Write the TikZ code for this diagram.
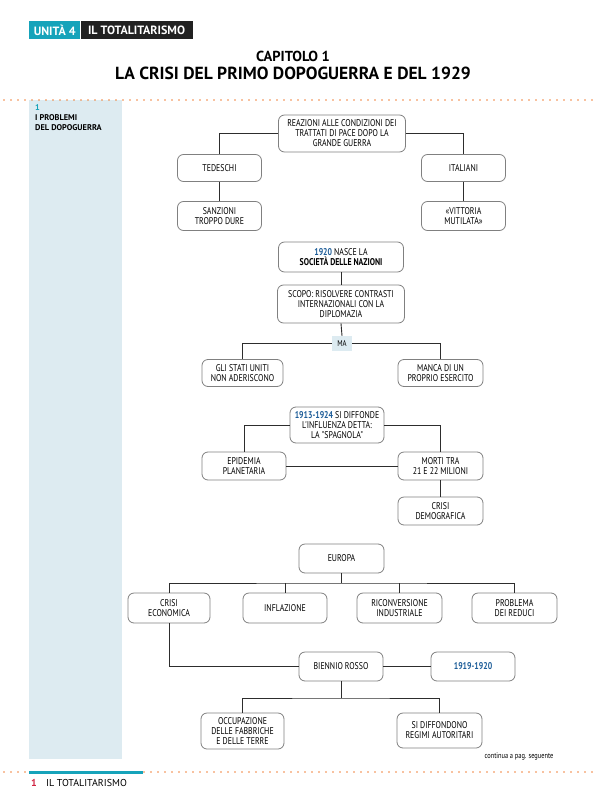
\documentclass[tikz,border=0pt]{standalone}
\usepackage{fontspec}
\setmainfont{PT Sans}
\newfontfamily\condfont{PT Sans}[FakeStretch=0.8]
\usepackage{xcolor}
\definecolor{unitteal}{RGB}{22,163,186}
\definecolor{paneblue}{RGB}{221,235,241}
\definecolor{dotorange}{RGB}{240,132,62}
\definecolor{yearblue}{RGB}{28,92,152}
\definecolor{boxgray}{RGB}{128,128,128}
\definecolor{linegray}{RGB}{45,45,45}
\definecolor{pagered}{RGB}{208,36,66}
\newcommand{\anno}[1]{\textcolor{yearblue}{\bfseries #1}}

\begin{document}
\begin{tikzpicture}[x=1pt, y=-1pt,
  blk/.style={draw=boxgray, fill=white, rounded corners=6pt, line width=0.8pt,
              minimum width=84pt, minimum height=28pt, inner sep=1pt,
              font=\condfont\fontsize{9.8}{10}\selectfont, align=center},
  link/.style={draw=linegray, line width=0.9pt},
  dotline/.style={draw=dotorange, line width=1.7pt, line cap=round,
                  dash pattern=on 0pt off 7pt},
  every node/.style={align=center}
]
\useasboundingbox (0,0) rectangle (593,808);

%% Page frame
\fill[paneblue] (29,100) rectangle (122,759);
\draw[dotline] (4,100) -- (593,100);
\draw[dotline] (4,772) -- (593,772);
\fill[unitteal] (29,770.5) rectangle (143,774);

%% Header
\node[fill=unitteal, text=white, font=\bfseries\fontsize{12}{12}\selectfont,
      minimum width=51pt, minimum height=18pt, inner sep=0pt, anchor=north west]
      (unita) at (29,21) {UNITÀ 4};
\node[fill=black!87, text=white, font=\bfseries\fontsize{12}{12}\selectfont,
      minimum width=112pt, minimum height=18pt, inner sep=0pt, anchor=west]
      (unitit) at (unita.east) {IL TOTALITARISMO};
\node[font=\bfseries\fontsize{14.5}{15}\selectfont] (cap) at (293,56) {CAPITOLO 1};
\node[font=\bfseries\fontsize{17.5}{18}\selectfont] (titolo) at (293,73)
  {LA CRISI DEL PRIMO DOPOGUERRA E DEL 1929};

%% Section label
\node[anchor=north west, align=left, inner sep=0pt,
      font=\bfseries\fontsize{8.3}{10}\selectfont] (sez) at (35,104)
  {\textcolor{unitteal}{1}\\I PROBLEMI\\DEL DOPOGUERRA};

%% Trattati di pace
\node[blk, minimum width=127pt, minimum height=37pt] (reaz) at (342,133.5)
  {REAZIONI ALLE CONDIZIONI DEI\\TRATTATI DI PACE DOPO LA\\GRANDE GUERRA};
\node[blk, minimum height=27pt] (ted)  at (219.5,168) {TEDESCHI};
\node[blk, minimum height=29pt] (sanz) at (219.5,216) {SANZIONI\\TROPPO DURE};
\node[blk, minimum height=27pt] (ital) at (463.5,168) {ITALIANI};
\node[blk, minimum height=29pt] (vitt) at (463.5,216) {«VITTORIA\\MUTILATA»};

%% Societa delle nazioni
\node[blk, minimum width=125pt, minimum height=30pt] (nasce) at (341,257)
  {\anno{1920} NASCE LA\\\textbf{SOCIETÀ DELLE NAZIONI}};
\node[blk, minimum width=127pt, minimum height=38pt] (scopo) at (341,304)
  {SCOPO: RISOLVERE CONTRASTI\\INTERNAZIONALI CON LA\\DIPLOMAZIA};
\node[fill=paneblue, minimum width=20pt, minimum height=15pt, inner sep=0pt,
      font=\condfont\fontsize{8.5}{9}\selectfont] (ma) at (342,343.5) {MA};
\node[blk, minimum width=81pt, minimum height=27pt] (usa) at (242.5,373)
  {GLI STATI UNITI\\NON ADERISCONO};
\node[blk, minimum width=85pt, minimum height=27pt] (manca) at (440.5,373)
  {MANCA DI UN\\PROPRIO ESERCITO};

%% Spagnola
\node[blk, minimum width=94pt, minimum height=36pt] (spagn) at (337,425)
  {\anno{1913-1924} SI DIFFONDE\\L'INFLUENZA DETTA:\\LA "SPAGNOLA"};
\node[blk] (epid)  at (244,466)   {EPIDEMIA\\PLANETARIA};
\node[blk, minimum width=85pt] (morti) at (440.5,466) {MORTI TRA\\21 E 22 MILIONI};
\node[blk, minimum width=85pt] (demo)  at (440.5,511) {CRISI\\DEMOGRAFICA};

%% Europa
\node[blk, minimum width=85pt, minimum height=29pt] (europa) at (341.5,558.5) {EUROPA};
\node[blk, minimum width=82pt, minimum height=30pt] (crisi)  at (169,608)   {CRISI\\ECONOMICA};
\node[blk, minimum height=30pt] (infl)   at (285,608)   {INFLAZIONE};
\node[blk, minimum width=85pt, minimum height=30pt] (ricon)  at (399.5,608) {RICONVERSIONE\\INDUSTRIALE};
\node[blk, minimum width=85pt, minimum height=30pt] (reduci) at (514.5,608) {PROBLEMA\\DEI REDUCI};
\node[blk, minimum height=29pt] (bien) at (341,666.5) {BIENNIO ROSSO};
\node[blk, minimum height=29pt] (anni) at (473,666.5) {\anno{1919-1920}};
\node[blk, minimum width=83pt, minimum height=36pt] (occup) at (242.5,731)
  {OCCUPAZIONE\\DELLE FABBRICHE\\E DELLE TERRE};
\node[blk, minimum width=85pt, minimum height=35pt] (regimi) at (439.5,730.5)
  {SI DIFFONDONO\\REGIMI AUTORITARI};

%% Connectors
\draw[link] (reaz.west) -| (ted.north);
\draw[link] (reaz.east) -| (ital.north);
\draw[link] (ted.south) -- (sanz.north);
\draw[link] (ital.south) -- (vitt.north);
\draw[link] (nasce.south) -- (scopo.north);
\draw[link] (scopo.south) -- (ma.north);
\draw[link] (ma.west) -| (usa.north);
\draw[link] (ma.east) -| (manca.north);
\draw[link] (spagn.west) -| (epid.north);
\draw[link] (spagn.east) -| (morti.north);
\draw[link] (epid.east) -- (morti.west);
\draw[link] (morti.south) -- (demo.north);
\coordinate (eubus) at (341.5,583);
\draw[link] (europa.south) -- (eubus);
\draw[link] (crisi.north) |- (eubus) -| (reduci.north);
\draw[link] (infl.north) -- (infl.north |- eubus);
\draw[link] (ricon.north) -- (ricon.north |- eubus);
\draw[link] (crisi.south) |- (bien.west);
\draw[link] (bien.east) -- (anni.west);
\coordinate (bibus) at (341,698);
\draw[link] (bien.south) -- (bibus);
\draw[link] (occup.north) |- (bibus) -| (regimi.north);

%% Footer
\node[anchor=east, font=\condfont\fontsize{8}{9}\selectfont] (cont) at (557,757)
  {continua a pag. seguente};
\node[anchor=west, inner sep=0pt, text=pagered, font=\bfseries\fontsize{10}{11}\selectfont]
  (pgnum) at (31,783) {1};
\node[anchor=west, inner sep=0pt, font=\fontsize{10}{11}\selectfont] (pgtit) at (46,783)
  {IL TOTALITARISMO};

\end{tikzpicture}
\end{document}
